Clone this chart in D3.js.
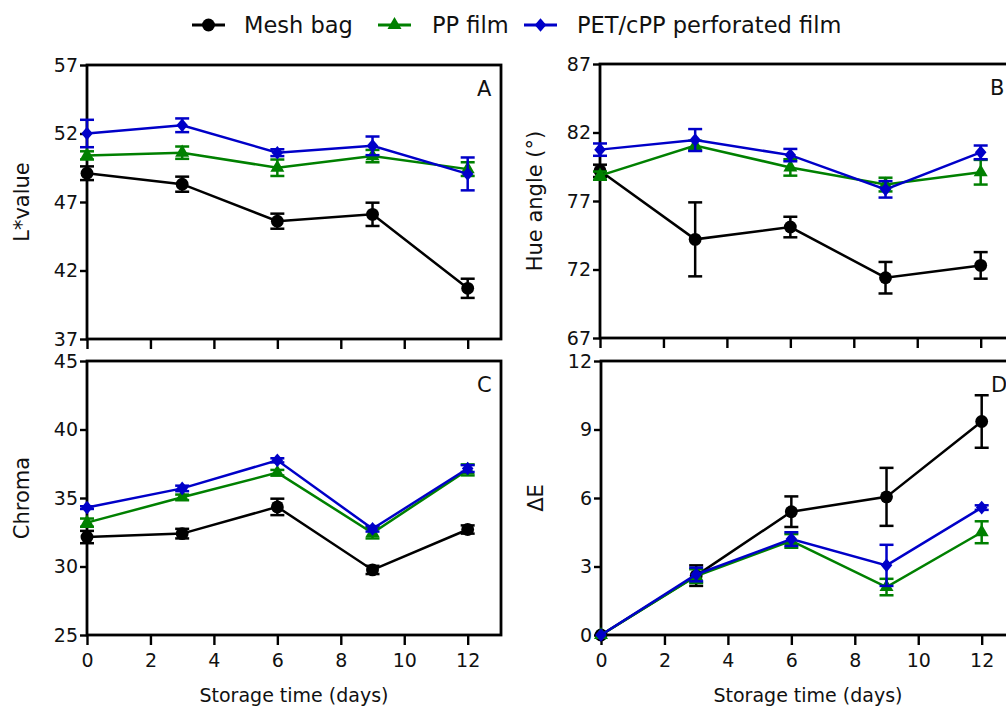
<!DOCTYPE html>
<html>
<head>
<meta charset="utf-8">
<script src="https://cdn.jsdelivr.net/npm/d3@7"></script>
<style>
	body { margin: 0; background: #fff; }
	text { font-family: "DejaVu Sans", sans-serif; fill: #111; }
</style>
</head>
<body>
<div id="chart"></div>
<script>
// storage days
var days = [0, 3, 6, 9, 12];
var xTicks = [0, 2, 4, 6, 8, 10, 12];

var seriesNames = ["Mesh bag", "PP film", "PET/cPP perforated film"];
var seriesColors = ["#000000", "#008000", "#0000c8"];
var seriesShapes = ["circle", "triangle", "diamond"];

// A - L* value
var lMesh = [49.1, 48.3, 45.6, 46.1, 40.7];
var lMeshErr = [0.5, 0.55, 0.55, 0.85, 0.7];
var lPP = [50.4, 50.6, 49.5, 50.35, 49.4];
var lPPErr = [0.3, 0.45, 0.6, 0.45, 0.5];
var lPET = [52.0, 52.6, 50.6, 51.1, 49.05];
var lPETErr = [1.0, 0.5, 0.25, 0.68, 1.2];

// B - hue angle
var hMesh = [79.2, 74.2, 75.1, 71.4, 72.3];
var hMeshErr = [0.45, 2.7, 0.75, 1.15, 0.97];
var hPP = [78.85, 81.05, 79.45, 78.2, 79.1];
var hPPErr = [0.3, 0.35, 0.6, 0.5, 0.9];
var hPET = [80.75, 81.45, 80.35, 77.85, 80.55];
var hPETErr = [0.45, 0.8, 0.45, 0.6, 0.5];

// C - chroma
var cMesh = [32.15, 32.4, 34.35, 29.75, 32.7];
var cMeshErr = [0.45, 0.35, 0.6, 0.3, 0.3];
var cPP = [33.2, 35.05, 36.85, 32.45, 37.05];
var cPPErr = [0.3, 0.2, 0.2, 0.4, 0.4];
var cPET = [34.3, 35.7, 37.75, 32.75, 37.15];
var cPETErr = [0.1, 0.2, 0.15, 0.2, 0.25];

// D - delta E
var eMesh = [0, 2.6, 5.4, 6.05, 9.35];
var eMeshErr = [0, 0.45, 0.67, 1.27, 1.15];
var ePP = [0, 2.58, 4.12, 2.1, 4.5];
var ePPErr = [0, 0.3, 0.3, 0.36, 0.48];
var ePET = [0, 2.65, 4.2, 3.05, 5.58];
var ePETErr = [0, 0.3, 0.3, 0.9, 0.1];

var panels = [
	{ letter: "A", title: "L*value", left: 87, top: 65, domain: [37, 57], ticks: [37, 42, 47, 52, 57],
		values: [lMesh, lPP, lPET], errors: [lMeshErr, lPPErr, lPETErr], xLabels: false },
	{ letter: "B", title: "Hue angle (°)", left: 600, top: 64, domain: [67, 87], ticks: [67, 72, 77, 82, 87],
		values: [hMesh, hPP, hPET], errors: [hMeshErr, hPPErr, hPETErr], xLabels: false },
	{ letter: "C", title: "Chroma", left: 87, top: 361, domain: [25, 45], ticks: [25, 30, 35, 40, 45],
		values: [cMesh, cPP, cPET], errors: [cMeshErr, cPPErr, cPETErr], xLabels: true },
	{ letter: "D", title: "ΔE", left: 601, top: 361, domain: [0, 12], ticks: [0, 3, 6, 9, 12],
		values: [eMesh, ePP, ePET], errors: [eMeshErr, ePPErr, ePETErr], xLabels: true }
];

var width = 1006;
var height = 709;
var panelW = 414;
var panelH = 274;

var svg = d3.select("#chart")
	.append("svg")
	.attr("width", width)
	.attr("height", height);

// squarer diamond than d3.symbolDiamond, closer to the original markers
var fatDiamond = {
	draw: function (context, size) {
		var h = Math.sqrt(size) * 0.85;
		var w = h * 0.85;
		context.moveTo(0, -h);
		context.lineTo(w, 0);
		context.lineTo(0, h);
		context.lineTo(-w, 0);
		context.closePath();
	}
};

function symbolFor (shape) {
	if (shape === "triangle") return d3.symbol().type(d3.symbolTriangle).size(85);
	if (shape === "diamond") return d3.symbol().type(fatDiamond).size(64);
	return d3.symbol().type(d3.symbolCircle).size(130);
}

function drawPanel (p) {
	var g = svg.append("g").attr("transform", "translate(" + p.left + "," + p.top + ")");
	var x = d3.scaleLinear().domain([0, 13.05]).range([0, panelW]);
	var y = d3.scaleLinear().domain(p.domain).range([panelH, 0]);

	// frame
	g.append("rect")
		.attr("width", panelW)
		.attr("height", panelH)
		.attr("fill", "none")
		.attr("stroke", "#000")
		.attr("stroke-width", 2.8);

	var yAxis = g.append("g")
		.call(d3.axisLeft(y).tickValues(p.ticks).tickSize(7).tickSizeOuter(0).tickPadding(2).tickFormat(d3.format("d")));
	yAxis.select(".domain").remove();
	yAxis.selectAll("line").attr("stroke-width", 2.4);
	yAxis.selectAll("text").style("font-size", "19px").attr("fill", "#111");

	var xAxis = g.append("g")
		.attr("transform", "translate(0," + panelH + ")")
		.call(d3.axisBottom(x).tickValues(xTicks).tickSize(10).tickSizeOuter(0).tickPadding(9));
	xAxis.select(".domain").remove();
	xAxis.selectAll("line").attr("stroke-width", 2.4);
	xAxis.selectAll("text").style("font-size", "19px").attr("fill", "#111");
	if (!p.xLabels) xAxis.selectAll("text").remove();

	// panel letter
	g.append("text")
		.attr("x", panelW - 24)
		.attr("y", 31)
		.attr("text-anchor", "start")
		.style("font-size", "21px")
		.text(p.letter);

	// y title
	g.append("text")
		.attr("transform", "translate(" + (-58) + "," + (panelH / 2) + ") rotate(-90)")
		.attr("text-anchor", "middle")
		.style("font-size", "21px")
		.text(p.title);

	if (p.xLabels) {
		g.append("text")
			.attr("x", panelW / 2)
			.attr("y", panelH + 67)
			.attr("text-anchor", "middle")
			.style("font-size", "19px")
			.text("Storage time (days)");
	}

	var line = d3.line()
		.x(function (d, i) { return x(days[i]); })
		.y(function (d) { return y(d); });

	p.values.forEach(function (vals, s) {
		var color = seriesColors[s];
		var errs = p.errors[s];
		var sg = g.append("g");

		var bars = sg.selectAll(".err")
			.data(vals)
			.enter()
			.append("g")
			.attr("stroke", color)
			.attr("stroke-width", 2.5);
		bars.append("line")
			.attr("x1", function (d, i) { return x(days[i]); })
			.attr("x2", function (d, i) { return x(days[i]); })
			.attr("y1", function (d, i) { return y(d - errs[i]); })
			.attr("y2", function (d, i) { return y(d + errs[i]); });
		[-1, 1].forEach(function (sign) {
			bars.append("line")
				.attr("x1", function (d, i) { return x(days[i]) - 7; })
				.attr("x2", function (d, i) { return x(days[i]) + 7; })
				.attr("y1", function (d, i) { return y(d + sign * errs[i]); })
				.attr("y2", function (d, i) { return y(d + sign * errs[i]); })
				.attr("display", function (d, i) { return errs[i] > 0 ? null : "none"; });
		});

		sg.append("path")
			.datum(vals)
			.attr("fill", "none")
			.attr("stroke", color)
			.attr("stroke-width", 2.5)
			.attr("d", line);

		sg.selectAll(".mark")
			.data(vals)
			.enter()
			.append("path")
			.attr("d", symbolFor(seriesShapes[s]))
			.attr("fill", color)
			.attr("transform", function (d, i) { return "translate(" + x(days[i]) + "," + y(d) + ")"; });
	});
}

function drawLegend () {
	var lineX = [192, 378, 524];
	var textX = [244, 432, 577];
	var legendY = 25;
	var lg = svg.append("g");
	seriesNames.forEach(function (name, s) {
		lg.append("line")
			.attr("x1", lineX[s])
			.attr("x2", lineX[s] + 33)
			.attr("y1", legendY)
			.attr("y2", legendY)
			.attr("stroke", seriesColors[s])
			.attr("stroke-width", 2.8);
		lg.append("path")
			.attr("d", symbolFor(seriesShapes[s]))
			.attr("fill", seriesColors[s])
			.attr("transform", "translate(" + (lineX[s] + 16.5) + "," + legendY + ")");
		lg.append("text")
			.attr("x", textX[s])
			.attr("y", legendY)
			.attr("dy", "0.35em")
			.style("font-size", "22.5px")
			.text(name);
	});
}

panels.forEach(drawPanel);
drawLegend();
</script>
</body>
</html>
